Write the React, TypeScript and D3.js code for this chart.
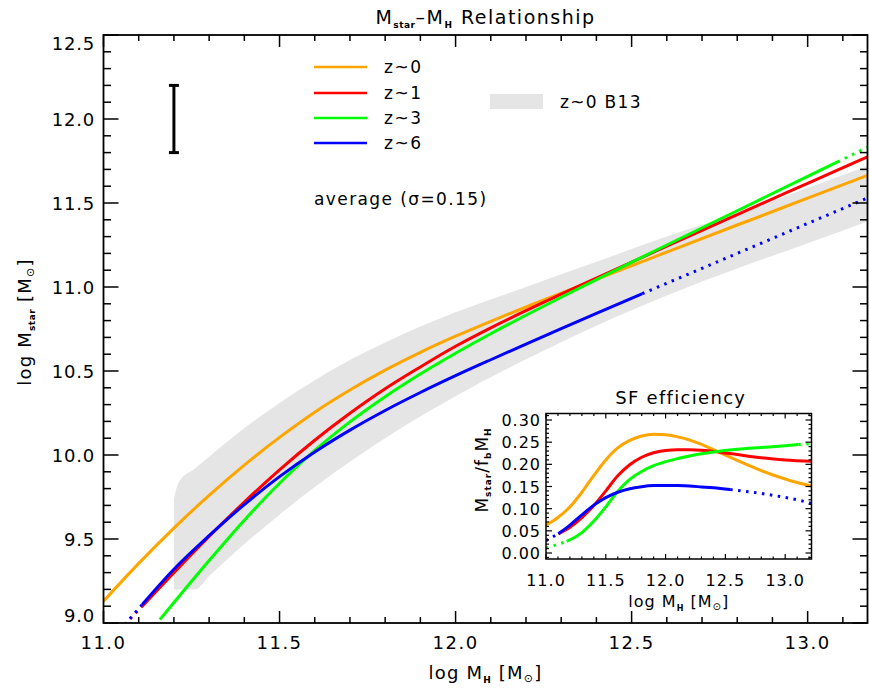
import React from 'react';
import * as d3 from 'd3';

type P = [number, number];

// ---------- tick labels / legend ----------
const xTickLabels = [11.0, 11.5, 12.0, 12.5, 13.0];
const yTickLabels = [9.0, 9.5, 10.0, 10.5, 11.0, 11.5, 12.0, 12.5];
const insetXTickLabels = [11.0, 11.5, 12.0, 12.5, 13.0];
const insetYTickLabels = [0.0, 0.05, 0.1, 0.15, 0.2, 0.25, 0.3];
const legendLabels = ['z~0', 'z~1', 'z~3', 'z~6'];
const seriesColors = ['#ffa500', '#ff0000', '#00ff00', '#0000ff'];
const bandLabel = 'z~0 B13';
const bandColor = '#e5e5e5';

// ---------- main panel: log Mstar vs log MH ----------
const orangeMain: P[] = [[11.0, 9.13], [11.1, 9.355], [11.2, 9.565], [11.3, 9.76], [11.4, 9.94], [11.5, 10.105], [11.6, 10.255], [11.7, 10.387], [11.8, 10.505], [11.9, 10.611], [12.0, 10.707], [12.1, 10.796], [12.2, 10.881], [12.3, 10.964], [12.4, 11.046], [12.6, 11.208], [12.8, 11.369], [13.0, 11.529], [13.17, 11.665]];
const redMainDot: P[] = [[11.06, 8.99], [11.11, 9.1]];
const redMain: P[] = [[11.11, 9.1], [11.2, 9.3], [11.3, 9.515], [11.4, 9.72], [11.5, 9.912], [11.6, 10.088], [11.7, 10.248], [11.8, 10.394], [11.9, 10.524], [12.0, 10.647], [12.1, 10.757], [12.2, 10.859], [12.3, 10.957], [12.4, 11.053], [12.6, 11.243], [12.8, 11.431], [13.0, 11.617], [13.17, 11.775]];
const greenMain: P[] = [[11.16, 9.02], [11.2, 9.122], [11.3, 9.372], [11.4, 9.612], [11.5, 9.832], [11.6, 10.027], [11.7, 10.197], [11.8, 10.347], [11.9, 10.482], [12.0, 10.606], [12.1, 10.722], [12.2, 10.832], [12.3, 10.939], [12.4, 11.044], [12.6, 11.25], [12.8, 11.454], [13.0, 11.658], [13.085, 11.745]];
const greenMainDot: P[] = [[13.085, 11.745], [13.17, 11.832]];
const blueMainDotLo: P[] = [[11.06, 8.99], [11.11, 9.11]];
const blueMain: P[] = [[11.11, 9.11], [11.2, 9.32], [11.3, 9.52], [11.4, 9.705], [11.5, 9.871], [11.6, 10.018], [11.7, 10.148], [11.8, 10.265], [11.9, 10.372], [12.0, 10.472], [12.1, 10.567], [12.2, 10.66], [12.3, 10.752], [12.4, 10.843], [12.53, 10.96]];
const blueMainDotHi: P[] = [[12.53, 10.96], [12.8, 11.2], [13.0, 11.378], [13.17, 11.53]];

// B13 band (x, lower, upper)
const bandX = [11.2, 11.214, 11.26, 11.3, 11.4, 11.5, 11.6, 11.7, 11.8, 11.9, 12.0, 12.2, 12.4, 12.6, 12.8, 13.0, 13.17];
const bandLow = [9.2, 9.2, 9.2, 9.28, 9.47, 9.645, 9.81, 9.96, 10.1, 10.23, 10.35, 10.57, 10.77, 10.95, 11.11, 11.26, 11.39];
const bandHigh = [9.74, 9.84, 9.92, 9.99, 10.16, 10.31, 10.445, 10.565, 10.67, 10.765, 10.85, 11.0, 11.15, 11.3, 11.44, 11.59, 11.72];

// error bar
const errX = 11.2;
const errLo = 11.8;
const errHi = 12.2;

// ---------- inset: SF efficiency ----------
const orangeEff: P[] = [[11.0, 0.063], [11.1, 0.08], [11.2, 0.104], [11.3, 0.137], [11.4, 0.175], [11.5, 0.21], [11.6, 0.237], [11.7, 0.254], [11.8, 0.264], [11.9, 0.268], [12.0, 0.267], [12.1, 0.262], [12.2, 0.255], [12.3, 0.245], [12.4, 0.233], [12.5, 0.221], [12.6, 0.209], [12.7, 0.197], [12.8, 0.186], [12.9, 0.176], [13.0, 0.167], [13.1, 0.159], [13.22, 0.151]];
const redEff: P[] = [[11.103, 0.043], [11.2, 0.058], [11.3, 0.08], [11.4, 0.107], [11.5, 0.14], [11.6, 0.174], [11.7, 0.199], [11.8, 0.216], [11.9, 0.226], [12.0, 0.231], [12.1, 0.233], [12.2, 0.233], [12.3, 0.232], [12.4, 0.229], [12.6, 0.222], [12.8, 0.215], [13.0, 0.21], [13.22, 0.207]];
const greenEffDot: P[] = [[11.0, 0.011], [11.173, 0.026]];
const greenEff: P[] = [[11.173, 0.026], [11.3, 0.046], [11.4, 0.072], [11.5, 0.104], [11.6, 0.139], [11.7, 0.166], [11.8, 0.184], [11.9, 0.197], [12.0, 0.206], [12.1, 0.213], [12.2, 0.219], [12.3, 0.224], [12.4, 0.228], [12.6, 0.234], [12.8, 0.238], [13.0, 0.242], [13.11, 0.2445]];
const greenEffDotHi: P[] = [[13.11, 0.2445], [13.22, 0.247]];
const blueEffDot: P[] = [[11.0, 0.028], [11.103, 0.0435]];
const blueEff: P[] = [[11.103, 0.0435], [11.2, 0.063], [11.3, 0.086], [11.4, 0.108], [11.5, 0.125], [11.6, 0.137], [11.7, 0.145], [11.8, 0.1495], [11.9, 0.152], [12.0, 0.1525], [12.1, 0.152], [12.2, 0.151], [12.3, 0.149], [12.4, 0.147], [12.54, 0.143]];
const blueEffDotHi: P[] = [[12.54, 0.143], [12.7, 0.138], [12.9, 0.13], [13.1, 0.12], [13.22, 0.112]];

const FONT = "'DejaVu Sans', sans-serif";

export default function App() {
  // main scales
  const L = 103.5, R = 867.5, T = 35, B = 623;
  const x = d3.scaleLinear().domain([11, 13.17]).range([L, R]);
  const y = d3.scaleLinear().domain([9, 12.5]).range([B, T]);
  const line = d3.line<P>().x(d => x(d[0])).y(d => y(d[1])).curve(d3.curveMonotoneX);
  const area = d3.area<number>()
    .x(d => x(bandX[d]))
    .y0(d => y(bandLow[d]))
    .y1(d => y(bandHigh[d]))
    .curve(d3.curveMonotoneX);

  // inset scales
  const iL = 546, iR = 811.5, iT = 413.5, iB = 559;
  const ix = d3.scaleLinear().domain([11, 13.22]).range([iL, iR]);
  const iy = d3.scaleLinear().domain([0, 0.3]).range([553, 420]);
  const iline = d3.line<P>().x(d => ix(d[0])).y(d => iy(d[1])).curve(d3.curveMonotoneX);

  const xMinor = d3.range(110, 1318, 1).map(v => v / 10).filter(v => v <= 13.17);
  const yMinor = d3.range(90, 126, 1).map(v => v / 10);
  const isMajor = (v: number) => Math.abs(v * 2 - Math.round(v * 2)) < 1e-6;

  const ixMinor = d3.range(110, 1323, 1).map(v => v / 10).filter(v => v <= 13.22);
  const iyMinor = d3.range(-1, 32, 1).map(v => v / 100).filter(v => iy(v) <= iB && iy(v) >= iT);
  const isMajorI = (v: number) => Math.abs(v * 20 - Math.round(v * 20)) < 1e-6;

  const solidW = 3;
  const dash = '2.5,5.5';
  const clampY = (v: number) => Math.max(T + 8, Math.min(B - 8, y(v)));

  return (
    <svg width={870} height={694} style={{ position: 'absolute', left: 0, top: 0, background: '#fff' }} fontFamily={FONT}>
      <defs>
        <clipPath id="mainClip"><rect x={L} y={T} width={R - L} height={B - T} /></clipPath>
        <clipPath id="insetClip"><rect x={iL} y={iT} width={iR - iL} height={iB - iT} /></clipPath>
      </defs>
      <rect x={0} y={0} width={870} height={694} fill="#fff" />

      <g clipPath="url(#mainClip)">
        <path d={area(d3.range(bandX.length)) || ''} fill={bandColor} stroke="none" />
        <path d={line(orangeMain) || ''} fill="none" stroke={seriesColors[0]} strokeWidth={solidW} />
        <path d={line(redMainDot) || ''} fill="none" stroke={seriesColors[1]} strokeWidth={solidW} strokeDasharray={dash} />
        <path d={line(redMain) || ''} fill="none" stroke={seriesColors[1]} strokeWidth={solidW} />
        <path d={line(greenMain) || ''} fill="none" stroke={seriesColors[2]} strokeWidth={solidW} />
        <path d={line(greenMainDot) || ''} fill="none" stroke={seriesColors[2]} strokeWidth={solidW} strokeDasharray={dash} />
        <path d={line(blueMainDotLo) || ''} fill="none" stroke={seriesColors[3]} strokeWidth={solidW} strokeDasharray={dash} />
        <path d={line(blueMain) || ''} fill="none" stroke={seriesColors[3]} strokeWidth={solidW} />
        <path d={line(blueMainDotHi) || ''} fill="none" stroke={seriesColors[3]} strokeWidth={solidW} strokeDasharray={dash} />
      </g>

      {/* frame + ticks */}
      <rect x={L} y={T} width={R - L} height={B - T} fill="none" stroke="#000" strokeWidth={1.8} />
      {xMinor.map((v, i) => {
        const len = isMajor(v) ? 12 : 6;
        return (
          <g key={'xt' + i} stroke="#000" strokeWidth={1.5}>
            <line x1={x(v)} x2={x(v)} y1={B} y2={B - len} />
            <line x1={x(v)} x2={x(v)} y1={T} y2={T + len} />
          </g>
        );
      })}
      {yMinor.map((v, i) => {
        const len = isMajor(v) ? 15 : 7.5;
        return (
          <g key={'yt' + i} stroke="#000" strokeWidth={1.5}>
            <line x1={L} x2={L + len} y1={y(v)} y2={y(v)} />
            <line x1={R} x2={R - len} y1={y(v)} y2={y(v)} />
          </g>
        );
      })}
      {xTickLabels.map(v => (
        <text key={'xl' + v} x={x(v)} y={649} textAnchor="middle" fontSize={18} letterSpacing={1.5}>{v.toFixed(1)}</text>
      ))}
      {yTickLabels.map(v => (
        <text key={'yl' + v} x={95} y={clampY(v) + 7} textAnchor="end" fontSize={18} letterSpacing={0.8}>{v.toFixed(1)}</text>
      ))}

      {/* titles */}
      <text x={(L + R) / 2} y={24} textAnchor="middle" fontSize={19} letterSpacing={1.5}>
        M<tspan fontSize={9} fontWeight="bold" letterSpacing={0.5} dy={4}>star</tspan><tspan dy={-4}>–M</tspan><tspan fontSize={9} fontWeight="bold" dy={4}>H</tspan><tspan dy={-4}> Relationship</tspan>
      </text>
      <text x={(L + R) / 2} y={679} textAnchor="middle" fontSize={18} letterSpacing={1.2}>
        log M<tspan fontSize={9} fontWeight="bold" dy={4}>H</tspan><tspan dy={-4}> [M</tspan><tspan fontSize={11} dy={3}>⊙</tspan><tspan dy={-3}>]</tspan>
      </text>
      <text transform={`translate(31,322) rotate(-90)`} textAnchor="middle" fontSize={18} letterSpacing={1.2}>
        log M<tspan fontSize={9} fontWeight="bold" letterSpacing={0.5} dy={4}>star</tspan><tspan dy={-4}> [M</tspan><tspan fontSize={11} dy={3}>⊙</tspan><tspan dy={-3}>]</tspan>
      </text>

      {/* error bar */}
      <g stroke="#000" strokeWidth={3}>
        <line x1={x(errX)} x2={x(errX)} y1={y(errLo)} y2={y(errHi)} />
        <line x1={x(errX) - 5} x2={x(errX) + 5} y1={y(errLo)} y2={y(errLo)} />
        <line x1={x(errX) - 5} x2={x(errX) + 5} y1={y(errHi)} y2={y(errHi)} />
      </g>

      {/* legend */}
      {legendLabels.map((lab, i) => {
        const ly = [67, 93, 118, 143][i];
        return (
          <g key={lab}>
            <line x1={314} x2={367} y1={ly} y2={ly} stroke={seriesColors[i]} strokeWidth={2.5} />
            <text x={384} y={ly + 6} fontSize={17} letterSpacing={1.5}>{lab}</text>
          </g>
        );
      })}
      <rect x={490} y={94} width={53} height={15} fill={bandColor} />
      <text x={560} y={108} fontSize={17} letterSpacing={1.3}>{bandLabel}</text>
      <text x={314} y={205} fontSize={17} letterSpacing={1.4}>average (σ=0.15)</text>

      {/* inset */}
      <rect x={iL} y={iT} width={iR - iL} height={iB - iT} fill="#fff" stroke="none" />
      <g clipPath="url(#insetClip)">
        <path d={iline(orangeEff) || ''} fill="none" stroke={seriesColors[0]} strokeWidth={solidW} />
        <path d={iline(redEff) || ''} fill="none" stroke={seriesColors[1]} strokeWidth={solidW} />
        <path d={iline(greenEffDot) || ''} fill="none" stroke={seriesColors[2]} strokeWidth={solidW} strokeDasharray={dash} />
        <path d={iline(greenEff) || ''} fill="none" stroke={seriesColors[2]} strokeWidth={solidW} />
        <path d={iline(greenEffDotHi) || ''} fill="none" stroke={seriesColors[2]} strokeWidth={solidW} strokeDasharray={dash} />
        <path d={iline(blueEffDot) || ''} fill="none" stroke={seriesColors[3]} strokeWidth={solidW} strokeDasharray={dash} />
        <path d={iline(blueEff) || ''} fill="none" stroke={seriesColors[3]} strokeWidth={solidW} />
        <path d={iline(blueEffDotHi) || ''} fill="none" stroke={seriesColors[3]} strokeWidth={solidW} strokeDasharray={dash} />
      </g>
      <rect x={iL} y={iT} width={iR - iL} height={iB - iT} fill="none" stroke="#000" strokeWidth={1.5} />
      {ixMinor.map((v, i) => {
        const len = isMajor(v) ? 5 : 2.5;
        return (
          <g key={'ixt' + i} stroke="#000" strokeWidth={1.2}>
            <line x1={ix(v)} x2={ix(v)} y1={iB} y2={iB - len} />
            <line x1={ix(v)} x2={ix(v)} y1={iT} y2={iT + len} />
          </g>
        );
      })}
      {iyMinor.map((v, i) => {
        const len = isMajorI(v) ? 6 : 3;
        return (
          <g key={'iyt' + i} stroke="#000" strokeWidth={1.2}>
            <line x1={iL} x2={iL + len} y1={iy(v)} y2={iy(v)} />
            <line x1={iR} x2={iR - len} y1={iy(v)} y2={iy(v)} />
          </g>
        );
      })}
      {insetXTickLabels.map(v => (
        <text key={'ixl' + v} x={ix(v)} y={586} textAnchor="middle" fontSize={16} letterSpacing={1}>{v.toFixed(1)}</text>
      ))}
      {insetYTickLabels.map(v => (
        <text key={'iyl' + v} x={541} y={iy(v) + 6} textAnchor="end" fontSize={16} letterSpacing={1}>{v.toFixed(2)}</text>
      ))}
      <text x={(iL + iR) / 2 + 2} y={404} textAnchor="middle" fontSize={18} letterSpacing={1.3}>SF efficiency</text>
      <text x={(iL + iR) / 2} y={607} textAnchor="middle" fontSize={16} letterSpacing={1}>
        log M<tspan fontSize={8} fontWeight="bold" dy={4}>H</tspan><tspan dy={-4}> [M</tspan><tspan fontSize={10} dy={3}>⊙</tspan><tspan dy={-3}>]</tspan>
      </text>
      <text transform={`translate(488,470) rotate(-90)`} textAnchor="middle" fontSize={17} letterSpacing={1}>
        M<tspan fontSize={9} fontWeight="bold" dy={3}>star</tspan><tspan dy={-3}>/f</tspan><tspan fontSize={9} fontWeight="bold" dy={3}>b</tspan><tspan dy={-3}>M</tspan><tspan fontSize={9} fontWeight="bold" dy={3}>H</tspan>
      </text>
    </svg>
  );
}
